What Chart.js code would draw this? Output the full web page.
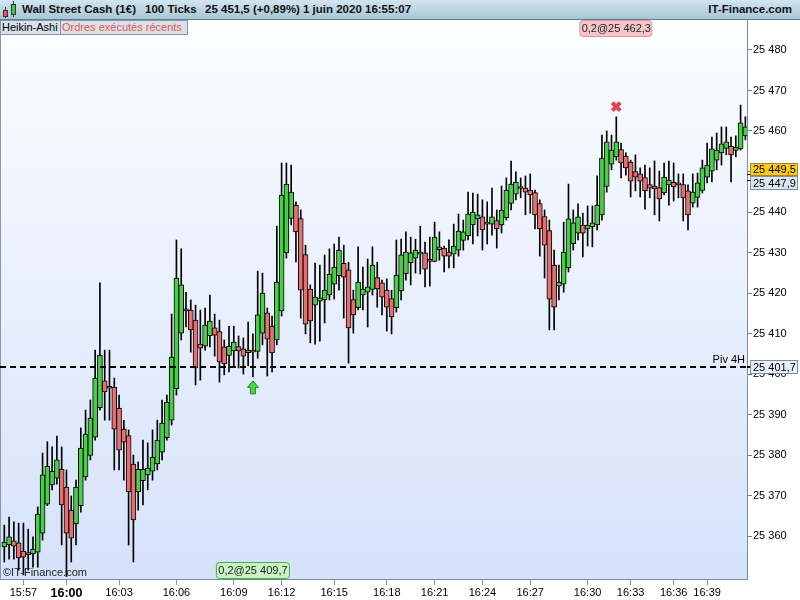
<!DOCTYPE html>
<html>
<head>
<meta charset="utf-8">
<script src="https://cdn.jsdelivr.net/npm/chart.js@4.4.0/dist/chart.umd.min.js"></script>
<style>
  body { margin: 0; background: #fff; font-family: "Liberation Sans", Arial, sans-serif; }
  #wrap { position: relative; width: 800px; height: 600px; overflow: hidden; }
  #c { position: absolute; left: 0; top: 0; }
  #hdr { position: absolute; left: 0; top: 0; width: 800px; height: 19px;
         background: linear-gradient(#d2e5ef, #a8c6d6); border-bottom: 1px solid #5f7d8d; }
  .ht { position: absolute; top: 3px; font-weight: bold; font-size: 11.5px; color: #111; white-space: nowrap; }
  .btn { position: absolute; top: 20px; height: 13px; line-height: 13px; font-size: 11px; padding: 0 0 0 1px;
         background: #d8e1e9; border: 1px solid #8797a7; white-space: nowrap; color: #000; overflow: hidden; }
  .ic { position: absolute; border: 1px solid #333; }
  .wk { position: absolute; width: 1px; background: #333; }
</style>
</head>
<body>
<div id="wrap">
  <canvas id="c" width="800" height="600"></canvas>
  <div id="hdr">
    <div class="wk" style="left:5px;top:7px;height:11px"></div>
    <div class="ic" style="left:3px;top:10px;width:3px;height:5px;background:#e85a5a"></div>
    <div class="wk" style="left:13px;top:1px;height:16px"></div>
    <div class="ic" style="left:11px;top:4px;width:3px;height:9px;background:#3fcc3f"></div>
    <span class="ht" style="left:22px">Wall Street Cash (1€)</span>
    <span class="ht" style="left:145px">100 Ticks</span>
    <span class="ht" style="left:205px">25 451,5 (+0,89%)</span>
    <span class="ht" style="left:303px">1 juin 2020 16:55:07</span>
    <span class="ht" style="right:8px">IT-Finance.com</span>
  </div>
  <div class="btn" style="left:0px;width:58px">Heikin-Ashi</div>
  <div class="btn" style="left:60px;width:125px;color:#e65555">Ordres exécutés récents</div>
</div>
<script>
// Heikin-Ashi candles, 100 ticks each
const opens = [
  25357.3, 25357.8, 25358.8, 25358.3, 25356.3, 25355.6, 25355.6, 25356.0, 25360.7, 25367.9,
  25372.6, 25374.3, 25376.5, 25372.1, 25366.4, 25363.0, 25367.5, 25374.6, 25379.9, 25384.4,
  25391.7, 25398.3, 25396.9, 25396.8, 25391.6, 25386.4, 25384.8, 25377.8, 25370.9, 25373.7,
  25375.1, 25376.0, 25377.8, 25380.7, 25384.3, 25388.6, 25396.4, 25410.1, 25416.0, 25415.8,
  25413.3, 25407.4, 25406.9, 25409.5, 25411.4, 25410.5, 25406.7, 25404.6, 25405.7, 25406.8,
  25406.2, 25405.3, 25405.7, 25405.6, 25410.1, 25415.1, 25411.8, 25408.4, 25415.6, 25429.9,
  25438.4, 25441.7, 25438.4, 25429.5, 25421.0, 25417.0, 25418.0, 25418.3, 25419.5, 25422.2,
  25424.3, 25427.3, 25425.7, 25418.4, 25416.4, 25419.5, 25420.2, 25420.9, 25423.8, 25422.5,
  25420.7, 25418.6, 25416.4, 25420.5, 25424.8, 25427.5, 25428.6, 25429.6, 25429.9, 25427.9,
  25427.8, 25430.7, 25431.1, 25430.1, 25429.6, 25430.6, 25433.0, 25434.1, 25436.8, 25438.3,
  25438.8, 25437.0, 25437.0, 25437.9, 25436.8, 25438.6, 25442.1, 25444.4, 25445.9, 25445.9,
  25445.4, 25444.8, 25442.1, 25438.9, 25435.4, 25426.9, 25421.7, 25422.2, 25426.2, 25432.2,
  25434.8, 25436.8, 25435.8, 25436.3, 25436.8, 25439.3, 25446.3, 25451.8, 25453.6, 25455.4,
  25453.8, 25452.3, 25450.0, 25449.4, 25448.5, 25446.8, 25446.4, 25446.0, 25444.7, 25446.7,
  25447.3, 25446.8, 25446.8, 25445.2, 25442.2, 25443.6, 25445.3, 25448.6, 25450.1, 25452.8,
  25454.6, 25455.7, 25456.3, 25455.2, 25455.6, 25458.8
];
const highs = [
  25362.7, 25364.7, 25363.5, 25363.2, 25363.2, 25361.7, 25359.8, 25367.2, 25380.5, 25383.3,
  25382.0, 25384.7, 25382.0, 25376.3, 25369.9, 25373.8, 25386.7, 25391.1, 25393.6, 25405.9,
  25422.5, 25405.9, 25405.9, 25399.0, 25394.8, 25388.6, 25386.2, 25380.0, 25378.3, 25383.7,
  25383.0, 25386.2, 25388.6, 25393.6, 25394.8, 25414.8, 25433.1, 25430.9, 25420.2, 25418.3,
  25417.0, 25415.8, 25416.3, 25419.5, 25414.8, 25413.3, 25408.4, 25411.8, 25411.8, 25409.4,
  25408.9, 25412.8, 25409.9, 25425.4, 25424.9, 25416.3, 25414.3, 25436.5, 25452.1, 25452.1,
  25451.6, 25442.5, 25440.5, 25431.8, 25422.0, 25427.4, 25426.9, 25429.4, 25430.9, 25432.1,
  25433.8, 25431.8, 25427.6, 25420.7, 25431.4, 25426.4, 25428.4, 25431.4, 25427.6, 25423.2,
  25423.5, 25420.7, 25433.1, 25433.3, 25435.1, 25433.8, 25433.3, 25436.5, 25432.6, 25433.8,
  25437.5, 25435.1, 25431.6, 25433.1, 25437.0, 25439.5, 25438.0, 25444.9, 25444.7, 25444.4,
  25443.0, 25442.5, 25445.9, 25440.5, 25446.4, 25448.4, 25452.6, 25449.9, 25448.4, 25448.9,
  25449.4, 25445.4, 25443.0, 25440.5, 25438.0, 25430.6, 25426.9, 25437.5, 25446.9, 25440.5,
  25442.0, 25439.7, 25441.5, 25441.5, 25448.9, 25459.0, 25460.0, 25459.0, 25463.5, 25457.0,
  25454.6, 25452.8, 25454.1, 25450.9, 25451.6, 25450.9, 25452.6, 25450.1, 25452.1, 25452.6,
  25452.1, 25449.4, 25449.4, 25446.7, 25449.4, 25449.6, 25452.8, 25457.0, 25458.5, 25459.5,
  25461.0, 25461.0, 25458.5, 25458.8, 25466.4, 25463.5
];
const lows = [
  25353.6, 25354.3, 25354.3, 25351.6, 25350.4, 25351.6, 25352.3, 25352.3, 25359.0, 25367.5,
  25371.4, 25372.8, 25357.8, 25350.0, 25353.6, 25357.8, 25365.9, 25373.8, 25378.8, 25383.7,
  25391.1, 25388.6, 25388.6, 25376.3, 25376.3, 25373.8, 25357.8, 25353.6, 25366.4, 25367.7,
  25371.4, 25373.8, 25376.3, 25378.8, 25383.7, 25387.4, 25394.8, 25408.4, 25411.6, 25405.4,
  25397.3, 25398.5, 25405.9, 25406.7, 25404.4, 25398.0, 25399.8, 25400.5, 25402.0, 25401.5,
  25400.0, 25402.0, 25399.3, 25403.9, 25407.2, 25399.5, 25400.5, 25407.2, 25414.3, 25428.6,
  25436.8, 25427.7, 25413.8, 25409.9, 25407.7, 25407.4, 25408.1, 25412.6, 25418.3, 25418.5,
  25420.7, 25413.8, 25402.7, 25410.1, 25415.8, 25415.8, 25411.6, 25419.5, 25416.5, 25414.6,
  25410.6, 25409.9, 25415.3, 25418.3, 25423.2, 25422.0, 25424.9, 25424.7, 25421.5, 25421.7,
  25427.7, 25428.1, 25425.2, 25426.2, 25426.2, 25429.1, 25430.6, 25433.1, 25432.1, 25434.1,
  25430.6, 25432.1, 25434.3, 25431.1, 25434.8, 25438.0, 25440.5, 25443.0, 25443.5, 25439.3,
  25439.7, 25435.8, 25429.1, 25423.7, 25410.9, 25410.9, 25418.3, 25420.2, 25425.2, 25430.6,
  25433.1, 25428.9, 25431.6, 25431.4, 25435.6, 25438.0, 25444.9, 25450.4, 25452.8, 25448.4,
  25449.1, 25443.7, 25445.2, 25443.7, 25440.7, 25443.5, 25439.3, 25437.8, 25444.2, 25441.7,
  25442.7, 25443.5, 25437.8, 25435.6, 25441.2, 25441.2, 25444.7, 25447.2, 25447.4, 25450.4,
  25451.6, 25454.1, 25447.4, 25453.6, 25455.3, 25457.8
];
const closes = [
  25358.5, 25359.8, 25357.5, 25354.6, 25354.8, 25355.4, 25356.8, 25365.4, 25375.1, 25377.3,
  25376.0, 25378.8, 25367.7, 25360.7, 25359.5, 25372.1, 25381.7, 25385.2, 25389.1, 25399.0,
  25404.7, 25395.6, 25396.5, 25386.4, 25381.2, 25383.2, 25370.9, 25364.0, 25376.5, 25376.5,
  25376.8, 25379.5, 25383.7, 25387.9, 25393.1, 25404.2, 25423.7, 25422.0, 25415.6, 25410.9,
  25401.5, 25406.4, 25412.1, 25413.1, 25409.6, 25403.0, 25402.5, 25406.9, 25407.9, 25405.7,
  25404.4, 25405.9, 25405.4, 25414.6, 25420.0, 25408.6, 25405.2, 25422.7, 25444.2, 25446.9,
  25444.9, 25435.1, 25420.7, 25412.3, 25413.1, 25419.0, 25418.8, 25420.7, 25424.7, 25426.4,
  25430.6, 25423.9, 25411.4, 25414.6, 25422.7, 25421.0, 25421.5, 25426.9, 25421.0, 25419.0,
  25416.5, 25414.1, 25424.4, 25429.4, 25430.1, 25429.9, 25430.6, 25430.1, 25425.9, 25427.8,
  25433.8, 25431.4, 25429.1, 25429.1, 25431.6, 25435.3, 25435.1, 25439.5, 25440.0, 25439.3,
  25435.6, 25437.0, 25438.8, 25435.8, 25440.5, 25445.4, 25446.9, 25447.4, 25445.8, 25444.9,
  25444.2, 25439.3, 25435.8, 25431.8, 25418.5, 25416.5, 25422.7, 25430.1, 25438.3, 25437.3,
  25438.8, 25434.8, 25436.8, 25437.3, 25441.7, 25453.3, 25457.3, 25455.3, 25457.3, 25452.1,
  25450.9, 25447.6, 25448.6, 25447.6, 25445.2, 25445.9, 25445.7, 25443.2, 25448.6, 25447.9,
  25446.2, 25446.7, 25443.5, 25439.3, 25444.9, 25447.2, 25450.9, 25451.6, 25455.6, 25455.3,
  25456.8, 25457.3, 25454.1, 25456.0, 25462.0, 25461.0
];

// time axis: labels sit on the candle where the minute starts
const timeLabels = ['15:57', '16:00', '16:03', '16:06', '16:09', '16:12', '16:15', '16:18',
                    '16:21', '16:24', '16:27', '16:30', '16:33', '16:36', '16:39'];
const timeTickIdx = [5, 14, 25, 37, 49, 59, 70, 81, 91, 101, 111, 123, 132, 141, 148];
const priceTicks = [25360, 25370, 25380, 25390, 25400, 25410, 25420, 25430, 25440, 25450, 25460, 25470, 25480];

const pivotLevel = 25401.7;
const lastPrice = 25449.5;
const bidPrice = 25447.9;
const sellTrade = { idx: 129, price: 25462.3, text: '0,2@25 462,3' };
const buyTrade = { idx: 53, price: 25409.7, text: '0,2@25 409,7' };

const FONT = '"Liberation Sans", Arial, sans-serif';
const fmtPrice = (v, dec) => {
  const s = dec ? v.toFixed(1).replace('.', ',') : String(Math.round(v));
  return s.replace(/^(\d{2})(\d{3})/, '$1 $2');
};

function roundRect(ctx, x, y, w, h, r) {
  ctx.beginPath();
  ctx.moveTo(x + r, y);
  ctx.lineTo(x + w - r, y);
  ctx.quadraticCurveTo(x + w, y, x + w, y + r);
  ctx.lineTo(x + w, y + h - r);
  ctx.quadraticCurveTo(x + w, y + h, x + w - r, y + h);
  ctx.lineTo(x + r, y + h);
  ctx.quadraticCurveTo(x, y + h, x, y + h - r);
  ctx.lineTo(x, y + r);
  ctx.quadraticCurveTo(x, y, x + r, y);
  ctx.closePath();
}

function tag(ctx, x, y, w, h, bg, border, text) {
  ctx.fillStyle = bg;
  ctx.fillRect(x, y, w, h);
  ctx.strokeStyle = border;
  ctx.lineWidth = 1;
  ctx.strokeRect(x + 0.5, y + 0.5, w - 1, h - 1);
  ctx.fillStyle = '#000';
  ctx.font = '11px ' + FONT;
  ctx.textBaseline = 'middle';
  ctx.textAlign = 'left';
  ctx.fillText(text, x + 3, y + h / 2 + 0.5);
}

const deco = {
  id: 'deco',
  beforeDraw(chart) {
    const { ctx, chartArea: a } = chart;
    const g = ctx.createLinearGradient(0, a.top, 0, a.bottom);
    g.addColorStop(0, '#fcfdff');
    g.addColorStop(1, '#d5e2fb');
    ctx.save();
    ctx.fillStyle = g;
    ctx.fillRect(a.left, a.top, a.right - a.left, a.bottom - a.top);
    ctx.fillStyle = '#8a98a6';
    ctx.fillRect(0, a.top, 1, a.bottom - a.top);
    ctx.restore();
  },
  afterDatasetsDraw(chart) {
    const { ctx, chartArea: a, scales: { x, y } } = chart;
    ctx.save();
    // pivot line
    const py = Math.round(y.getPixelForValue(pivotLevel));
    ctx.strokeStyle = '#000';
    ctx.lineWidth = 2;
    ctx.setLineDash([6, 4]);
    ctx.beginPath();
    ctx.moveTo(a.left, py);
    ctx.lineTo(a.right, py);
    ctx.stroke();
    ctx.setLineDash([]);
    ctx.fillStyle = '#000';
    ctx.font = '11px ' + FONT;
    ctx.textAlign = 'right';
    ctx.textBaseline = 'alphabetic';
    ctx.fillText('Piv 4H', a.right - 2, py - 4);

    // sell marker (red cross) above the candle
    const sx = x.getPixelForValue(sellTrade.idx);
    const sy = y.getPixelForValue(sellTrade.price) - 15;
    ctx.strokeStyle = '#e2454b';
    ctx.lineWidth = 4;
    ctx.beginPath();
    ctx.moveTo(sx - 4, sy - 4); ctx.lineTo(sx + 4, sy + 4);
    ctx.moveTo(sx + 4, sy - 4); ctx.lineTo(sx - 4, sy + 4);
    ctx.stroke();

    // buy marker (green arrow) below the candle
    const bx = x.getPixelForValue(buyTrade.idx);
    const by = y.getPixelForValue(lows[buyTrade.idx - 1]) + 4;
    ctx.beginPath();
    ctx.moveTo(bx, by);
    ctx.lineTo(bx + 5.5, by + 6.5);
    ctx.lineTo(bx + 2.5, by + 6.5);
    ctx.lineTo(bx + 2.5, by + 13);
    ctx.lineTo(bx - 2.5, by + 13);
    ctx.lineTo(bx - 2.5, by + 6.5);
    ctx.lineTo(bx - 5.5, by + 6.5);
    ctx.closePath();
    ctx.fillStyle = '#46d646';
    ctx.fill();
    ctx.strokeStyle = '#1f8a1f';
    ctx.lineWidth = 1;
    ctx.stroke();

    // trade labels
    ctx.font = '11px ' + FONT;
    ctx.textAlign = 'center';
    ctx.textBaseline = 'middle';
    roundRect(ctx, sx - 36.5, a.top + 0.5, 72, 16, 3);
    ctx.fillStyle = '#f5c5cb';
    ctx.fill();
    ctx.strokeStyle = '#dc9aa3';
    ctx.stroke();
    ctx.fillStyle = '#222';
    ctx.fillText(sellTrade.text, sx, a.top + 9);

    roundRect(ctx, bx - 36.5, a.bottom - 16.5, 73, 16, 3);
    ctx.fillStyle = '#c9f3c3';
    ctx.fill();
    ctx.strokeStyle = '#46b046';
    ctx.stroke();
    ctx.fillStyle = '#222';
    ctx.fillText(buyTrade.text, bx, a.bottom - 8);

    ctx.textAlign = 'left';
    ctx.textBaseline = 'alphabetic';
    ctx.fillStyle = '#222';
    ctx.fillText('©IT-Finance.com', 3, a.bottom - 3);
    ctx.restore();
  },
  afterDraw(chart) {
    const { ctx, chartArea: a, scales: { y } } = chart;
    ctx.save();
    const py = Math.round(y.getPixelForValue(pivotLevel));
    ctx.fillStyle = '#000';
    ctx.fillRect(a.right, py - 1, 4, 2);
    tag(ctx, a.right + 3, py - 7, 48, 14, '#e9eff8', '#7b8b9b', fmtPrice(pivotLevel, true));

    const ly = Math.round(y.getPixelForValue(lastPrice));
    const by = Math.round(y.getPixelForValue(bidPrice));
    ctx.fillStyle = '#000';
    ctx.fillRect(a.right, ly, 4, 1);
    ctx.fillRect(a.right, by, 4, 1);
    tag(ctx, a.right + 3, by - 4, 48, 14, '#dde7f3', '#7f90a2', fmtPrice(bidPrice, true));
    tag(ctx, a.right + 3, ly - 11, 48, 13, '#ffcc1a', '#a5852a', fmtPrice(lastPrice, true));
    ctx.restore();
  }
};

const idx = closes.map((c, i) => i + 1);

new Chart(document.getElementById('c').getContext('2d'), {
  type: 'bar',
  data: {
    datasets: [
      {
        label: 'body',
        data: idx.map(i => ({ x: i, y: [opens[i - 1], closes[i - 1]] })),
        backgroundColor: idx.map(i => closes[i - 1] >= opens[i - 1] ? '#47cf47' : '#e86f6f'),
        borderColor: '#000',
        borderWidth: 1,
        borderSkipped: false,
        barThickness: 5,
        minBarLength: 2,
        grouped: false,
        order: 1
      },
      {
        label: 'wick',
        data: idx.map(i => ({ x: i, y: [lows[i - 1], highs[i - 1]] })),
        backgroundColor: '#000',
        borderWidth: 0,
        barThickness: 1,
        grouped: false,
        order: 2
      }
    ]
  },
  options: {
    responsive: false,
    animation: false,
    devicePixelRatio: 1,
    layout: { padding: { top: 20, left: 0, right: 0, bottom: 0 } },
    plugins: { legend: { display: false }, tooltip: { enabled: false } },
    scales: {
      x: {
        type: 'linear',
        offset: false,
        min: 0.1,
        max: 156.34,
        afterBuildTicks: s => { s.ticks = timeTickIdx.map(v => ({ value: v })); },
        afterFit: s => { s.height = 21; },
        grid: { drawOnChartArea: false, drawTicks: true, tickLength: 6, color: '#8a96a2', offset: false },
        border: { display: true, color: '#7d8b99', width: 1 },
        ticks: {
          autoSkip: false,
          maxRotation: 0,
          padding: 1,
          color: '#000',
          callback: (v, i) => timeLabels[i],
          font: c => ({ family: FONT, size: c.index === 1 ? 12.5 : 11, weight: c.index === 1 ? 'bold' : 'normal' })
        }
      },
      y: {
        position: 'right',
        min: 25349.4,
        max: 25487.4,
        afterBuildTicks: s => { s.ticks = priceTicks.map(v => ({ value: v })); },
        afterFit: s => { s.width = 53; },
        grid: { drawOnChartArea: false, drawTicks: true, tickLength: 5, color: '#6f7d8b' },
        border: { display: true, color: '#7d8b99', width: 1 },
        ticks: {
          padding: 1,
          color: '#000',
          font: { family: FONT, size: 11 },
          callback: v => fmtPrice(v, false)
        }
      }
    }
  },
  plugins: [deco]
});
</script>
</body>
</html>
